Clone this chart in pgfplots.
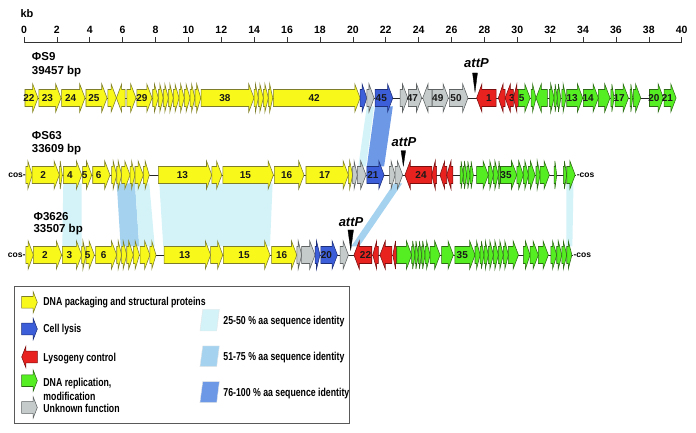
\documentclass[border=0pt]{standalone}
\usepackage{fontspec}
\setmainfont{Liberation Sans}
\newfontfamily\narrowfont[FakeStretch=0.76]{Liberation Sans}
\usepackage{pgfplots}
\pgfplotsset{compat=1.18}
\definecolor{cY}{HTML}{F8F81A}\definecolor{cYd}{HTML}{7D7D2A}
\definecolor{cB}{HTML}{3D5ED9}\definecolor{cBd}{HTML}{1E2F7A}
\definecolor{cR}{HTML}{E8221E}\definecolor{cRd}{HTML}{7A0E0E}
\definecolor{cG}{HTML}{55EE22}\definecolor{cGd}{HTML}{2D6A14}
\definecolor{cN}{HTML}{C5CACA}\definecolor{cNd}{HTML}{5E6262}
\definecolor{bA}{HTML}{D4F3F8}\definecolor{bB}{HTML}{A5D3EF}\definecolor{bC}{HTML}{6C98E5}
\tikzset{
 gY/.style={fill=cY,draw=cYd,line width=0.55pt},
 gB/.style={fill=cB,draw=cBd,line width=0.55pt},
 gR/.style={fill=cR,draw=cRd,line width=0.55pt},
 gG/.style={fill=cG,draw=cGd,line width=0.55pt},
 gN/.style={fill=cN,draw=cNd,line width=0.55pt},
 genelabel/.style={font=\bfseries\fontsize{10}{10}\selectfont,inner sep=0pt,text=black!90},
 lbl/.style={font=\bfseries\fontsize{11.5}{12}\selectfont,anchor=west,inner sep=0pt},
 leg/.style={font=\narrowfont\bfseries\fontsize{11.5}{12}\selectfont,anchor=west,inner sep=0pt},
 att/.style={font=\bfseries\itshape\fontsize{13}{14}\selectfont,inner sep=0pt},
 cos/.style={font=\bfseries\fontsize{8.5}{9}\selectfont,inner sep=0pt}
}
% arrow: x1, x2, y(px), body half, head half, max head length, style, label
\newcommand\Garrow[8]{%
  \pgfmathsetmacro\GA{#1}%
  \pgfmathsetmacro\GB{#2}%
  \pgfmathsetmacro\GL{abs(#2-#1)}%
  \pgfmathsetmacro\GD{(#2>#1)?1:-1}%
  \pgfmathsetmacro\GH{min(#6,0.7*\GL)}%
  \pgfmathsetmacro\GN{#2-\GD*\GH}%
  \pgfmathsetmacro\GM{(#1+\GN)/2}%
  \pgfmathsetmacro\Yc{-(#3)}%
  \pgfmathsetmacro\Ya{-(#3)+#4}%
  \pgfmathsetmacro\Yb{-(#3)-#4}%
  \pgfmathsetmacro\YA{-(#3)+#5}%
  \pgfmathsetmacro\YB{-(#3)-#5}%
  \edef\GTMP{\noexpand\addplot[#7] coordinates {(\GA,\Ya) (\GN,\Ya) (\GN,\YA) (\GB,\Yc) (\GN,\YB) (\GN,\Yb) (\GA,\Yb)} -- cycle;}%
  \GTMP
  \if\relax\detokenize{#8}\relax\else
    \edef\GTMP{\noexpand\node[genelabel] at (axis cs:\GM,\Yc) {#8};}\GTMP
  \fi
}
\newcommand\Gene[5]{\Garrow{#1}{#2}{#3}{8.5}{14}{0.32}{g#4}{#5}}
% band: top x1, top x2, bottom x1, bottom x2, top y, bottom y, colour
\newcommand\Band[7]{%
  \addplot[fill=#7,draw=none] coordinates {(#1,-#5) (#2,-#5) (#4,-#6) (#3,-#6)} -- cycle;}
% attP triangle: x, ytop, ybottom, half width
\newcommand\Att[4]{%
  \pgfmathsetmacro\TL{#1-#4}\pgfmathsetmacro\TR{#1+#4}%
  \edef\GTMP{\noexpand\addplot[fill=black,draw=black,line width=0.3pt] coordinates {(\TL,-#2) (\TR,-#2) (#1,-#3)} -- cycle;}\GTMP}
\begin{document}
\begin{tikzpicture}
\begin{axis}[
  scale only axis, width=657.7pt, height=391pt,
  xmin=0, xmax=40, ymin=-433, ymax=-42,
  axis x line=top, axis y line=none,
  x axis line style={-, draw=black!80, line width=0.7pt},
  xtick={0,2,...,40},
  tick align=outside, major tick length=5pt,
  tick style={black!80, line width=0.6pt},
  /pgf/number format/assume math mode=true,
  x tick label style={font=\bfseries\fontsize{10.5}{12}\selectfont},
  clip=false,
]
% backbones
\addplot[black!85,line width=0.7pt] coordinates {(0.0,-98) (39.46,-98)};
\addplot[black!85,line width=0.7pt] coordinates {(0.1,-175) (33.6,-175)};
\addplot[black!85,line width=0.7pt] coordinates {(0.1,-255) (33.4,-255)};
% homology bands S9 -> S63
\Band{20.85}{21.29}{20.33}{20.80}{106.5}{166.5}{bA}
\Band{21.35}{22.43}{20.85}{21.90}{106.5}{166.5}{bC}
% S63 -> 3626
\Band{2.39}{3.51}{2.33}{3.51}{183.5}{246.5}{bA}
\Band{5.64}{6.75}{5.88}{7.01}{183.5}{246.5}{bB}
\Band{6.75}{7.62}{7.01}{7.95}{183.5}{246.5}{bA}
\Band{8.23}{15.12}{8.47}{14.96}{183.5}{246.5}{bA}
\Band{22.50}{23.00}{19.90}{20.38}{183.5}{246.5}{bB}
\Band{32.98}{33.42}{32.98}{33.35}{183.5}{246.5}{bA}
% ---- track 1: PhiS9 ----
\Gene{0.06}{0.85}{98}{Y}{22}
\Gene{0.91}{2.25}{98}{Y}{23}
\Gene{2.29}{3.71}{98}{Y}{24}
\Gene{3.77}{5.05}{98}{Y}{25}
\Gene{5.10}{5.62}{98}{Y}{}
\Gene{6.15}{5.62}{98}{Y}{}
\Gene{6.26}{6.81}{98}{Y}{}
\Gene{6.87}{7.79}{98}{Y}{29}
\Gene{7.83}{8.17}{98}{Y}{}
\Gene{8.17}{8.47}{98}{Y}{}
\Gene{8.47}{8.78}{98}{Y}{}
\Gene{8.78}{9.08}{98}{Y}{}
\Gene{9.08}{9.43}{98}{Y}{}
\Gene{9.43}{9.75}{98}{Y}{}
\Gene{9.75}{10.10}{98}{Y}{}
\Gene{10.10}{10.40}{98}{Y}{}
\Gene{10.40}{10.75}{98}{Y}{}
\Gene{10.77}{13.99}{98}{Y}{38}
\Gene{14.00}{14.25}{98}{Y}{}
\Gene{14.25}{14.56}{98}{Y}{}
\Gene{14.56}{14.86}{98}{Y}{}
\Gene{14.86}{15.13}{98}{Y}{}
\Gene{15.17}{20.44}{98}{Y}{42}
\Gene{20.44}{20.85}{98}{B}{}
\Gene{20.85}{21.29}{98}{N}{}
\Gene{21.35}{22.43}{98}{B}{45}
\Gene{22.87}{23.34}{98}{N}{}
\Gene{23.38}{24.19}{98}{N}{47}
\Gene{24.80}{24.25}{98}{N}{}
\Gene{24.84}{25.81}{98}{N}{49}
\Gene{25.87}{27.00}{98}{N}{50}
\Gene{28.71}{27.53}{98}{R}{1}
\Gene{29.26}{28.85}{98}{R}{}
\Gene{29.76}{29.26}{98}{R}{3}
\Gene{30.07}{29.76}{98}{R}{}
\Gene{30.07}{30.78}{98}{G}{5}
\Gene{30.84}{31.14}{98}{G}{}
\Gene{31.83}{31.14}{98}{G}{}
\Gene{31.95}{32.24}{98}{G}{}
\Gene{32.24}{32.44}{98}{G}{}
\Gene{32.44}{32.65}{98}{G}{}
\Gene{32.71}{32.97}{98}{G}{}
\Gene{33.01}{33.98}{98}{G}{13}
\Gene{34.02}{34.93}{98}{G}{14}
\Gene{34.93}{35.64}{98}{G}{}
\Gene{35.69}{35.89}{98}{G}{}
\Gene{35.95}{36.76}{98}{G}{17}
\Gene{36.86}{37.02}{98}{G}{}
\Gene{37.06}{37.51}{98}{G}{}
\Gene{38.04}{38.89}{98}{G}{20}
\Gene{38.93}{39.66}{98}{G}{21}
\Att{27.43}{73}{92}{0.15}
% ---- track 2: PhiS63 ----
\Gene{0.12}{0.50}{175}{Y}{}
\Gene{0.50}{2.15}{175}{Y}{2}
\Gene{2.15}{2.33}{175}{Y}{}
\Gene{2.39}{3.51}{175}{Y}{4}
\Gene{3.57}{4.12}{175}{Y}{5}
\Gene{4.18}{5.23}{175}{Y}{6}
\Gene{5.33}{5.64}{175}{Y}{}
\Gene{5.64}{5.94}{175}{Y}{}
\Gene{5.94}{6.45}{175}{Y}{}
\Gene{6.45}{6.75}{175}{Y}{}
\Gene{6.75}{7.26}{175}{Y}{}
\Gene{7.26}{7.62}{175}{Y}{}
\Gene{8.17}{11.42}{175}{Y}{13}
\Gene{11.42}{12.03}{175}{Y}{}
\Gene{12.09}{15.17}{175}{Y}{15}
\Gene{15.23}{17.03}{175}{Y}{16}
\Gene{17.15}{19.73}{175}{Y}{17}
\Gene{19.73}{19.99}{175}{Y}{}
\Gene{19.99}{20.27}{175}{N}{}
\Gene{20.27}{20.80}{175}{N}{}
\Gene{20.85}{21.90}{175}{B}{21}
\Gene{22.22}{22.57}{175}{N}{}
\Gene{22.57}{23.03}{175}{N}{}
\Gene{24.80}{23.17}{175}{R}{24}
\Gene{25.10}{24.80}{175}{R}{}
\Gene{25.71}{25.30}{175}{R}{}
\Gene{26.08}{25.71}{175}{R}{}
\Gene{26.52}{26.72}{175}{G}{}
\Gene{26.72}{26.93}{175}{G}{}
\Gene{26.93}{27.13}{175}{G}{}
\Gene{27.13}{27.33}{175}{G}{}
\Gene{27.53}{28.24}{175}{G}{}
\Gene{28.24}{28.55}{175}{G}{}
\Gene{28.55}{28.85}{175}{G}{}
\Gene{28.85}{28.98}{175}{G}{}
\Gene{28.98}{29.97}{175}{G}{35}
\Gene{29.97}{30.37}{175}{G}{}
\Gene{30.37}{30.68}{175}{G}{}
\Gene{30.68}{31.08}{175}{G}{}
\Gene{31.14}{31.39}{175}{G}{}
\Gene{31.39}{31.95}{175}{G}{}
\Gene{32.24}{32.40}{175}{G}{}
\Gene{32.80}{33.01}{175}{G}{}
\Gene{33.01}{33.52}{175}{G}{}
\Att{23.07}{150.7}{166}{0.14}
% ---- track 3: Phi3626 ----
\Gene{0.12}{0.57}{255}{Y}{}
\Gene{0.57}{2.29}{255}{Y}{2}
\Gene{2.33}{3.51}{255}{Y}{3}
\Gene{3.51}{3.77}{255}{Y}{}
\Gene{3.77}{4.28}{255}{Y}{5}
\Gene{4.36}{5.64}{255}{Y}{6}
\Gene{5.64}{5.94}{255}{Y}{}
\Gene{5.94}{6.25}{255}{Y}{}
\Gene{6.25}{6.65}{255}{Y}{}
\Gene{6.65}{7.02}{255}{Y}{}
\Gene{7.06}{7.66}{255}{Y}{}
\Gene{7.66}{8.03}{255}{Y}{}
\Gene{8.52}{11.35}{255}{Y}{13}
\Gene{11.35}{12.09}{255}{Y}{}
\Gene{12.12}{14.96}{255}{Y}{15}
\Gene{15.06}{16.59}{255}{Y}{16}
\Gene{16.59}{16.89}{255}{N}{}
\Gene{16.89}{17.70}{255}{N}{}
\Gene{17.70}{18.00}{255}{B}{}
\Gene{18.05}{19.06}{255}{B}{20}
\Gene{19.22}{19.73}{255}{N}{}
\Gene{21.15}{20.07}{255}{R}{22}
\Gene{21.55}{21.21}{255}{R}{}
\Gene{22.37}{21.65}{255}{R}{}
\Gene{22.67}{22.43}{255}{R}{}
\Gene{22.67}{23.58}{255}{G}{}
\Gene{23.58}{23.78}{255}{G}{}
\Gene{23.78}{23.98}{255}{G}{}
\Gene{23.98}{24.19}{255}{G}{}
\Gene{24.19}{24.39}{255}{G}{}
\Gene{24.39}{24.70}{255}{G}{}
\Gene{24.70}{25.30}{255}{G}{}
\Gene{25.40}{26.11}{255}{G}{}
\Gene{26.20}{27.43}{255}{G}{35}
\Gene{27.43}{27.74}{255}{G}{}
\Gene{27.74}{27.98}{255}{G}{}
\Gene{27.98}{28.24}{255}{G}{}
\Gene{28.24}{28.55}{255}{G}{}
\Gene{28.55}{28.85}{255}{G}{}
\Gene{28.85}{29.15}{255}{G}{}
\Gene{29.15}{29.46}{255}{G}{}
\Gene{29.46}{30.07}{255}{G}{}
\Gene{30.37}{30.78}{255}{G}{}
\Gene{30.78}{31.28}{255}{G}{}
\Gene{31.28}{31.89}{255}{G}{}
\Gene{32.04}{32.40}{255}{G}{}
\Gene{32.40}{32.71}{255}{G}{}
\Gene{32.71}{33.01}{255}{G}{}
\Gene{33.01}{33.32}{255}{G}{}
\Att{19.87}{230}{250}{0.17}
% ---- texts ----
\node[font=\bfseries\fontsize{11}{12}\selectfont,inner sep=0pt] at (axis cs:0.18,-13.5) {kb};
\node[lbl] at (axis cs:0.47,-57) {ΦS9};
\node[lbl] at (axis cs:0.47,-72) {39457 bp};
\node[lbl] at (axis cs:0.47,-136) {ΦS63};
\node[lbl] at (axis cs:0.47,-150) {33609 bp};
\node[lbl] at (axis cs:0.57,-216.7) {Φ3626};
\node[lbl] at (axis cs:0.57,-230) {33507 bp};
\node[att] at (axis cs:27.52,-63) {attP};
\node[att] at (axis cs:23.11,-141.7) {attP};
\node[att] at (axis cs:19.89,-221.7) {attP};
\node[cos,anchor=east] at (axis cs:0.12,-175) {cos-};
\node[cos,anchor=east] at (axis cs:0.10,-255) {cos-};
\node[cos,anchor=west] at (axis cs:33.61,-175) {-cos};
\node[cos,anchor=west] at (axis cs:33.41,-255) {-cos};
% ---- legend ----
\addplot[draw=black!65,line width=0.8pt] coordinates {(-0.608,-286) (19.78,-286) (19.78,-423.3) (-0.608,-423.3)} -- cycle;
\Garrow{-0.14}{0.81}{302.3}{5.8}{10.5}{0.25}{gY}{}
\Garrow{-0.14}{0.81}{329}{5.8}{10.5}{0.25}{gB}{}
\Garrow{0.81}{-0.14}{357}{5.8}{10.5}{0.25}{gR}{}
\Garrow{-0.14}{0.81}{380.7}{5.8}{10.5}{0.25}{gG}{}
\Garrow{-0.14}{0.81}{407.5}{5.8}{10.5}{0.25}{gN}{}
\node[leg] at (axis cs:1.17,-302.3) {DNA packaging and structural proteins};
\node[leg] at (axis cs:1.17,-329.3) {Cell lysis};
\node[leg] at (axis cs:1.17,-358.3) {Lysogeny control};
\node[leg] at (axis cs:1.17,-383.3) {DNA replication,};
\node[leg] at (axis cs:1.17,-396.7) {modification};
\node[leg] at (axis cs:1.17,-408.3) {Unknown function};
\addplot[fill=bA,draw=black!10] coordinates {(10.87,-309.3) (11.88,-309.3) (11.72,-331) (10.70,-331)} -- cycle;
\addplot[fill=bB,draw=black!10] coordinates {(10.87,-346) (11.88,-346) (11.72,-366.7) (10.70,-366.7)} -- cycle;
\addplot[fill=bC,draw=black!10] coordinates {(10.87,-381.7) (11.88,-381.7) (11.72,-402.7) (10.70,-402.7)} -- cycle;
\node[leg] at (axis cs:12.12,-321.7) {25-50 \% aa sequence identity};
\node[leg] at (axis cs:12.12,-357.3) {51-75 \% aa sequence identity};
\node[leg] at (axis cs:12.12,-393.3) {76-100 \% aa sequence identity};
\end{axis}
\pgfresetboundingbox
\path ([xshift=-24pt]current axis.south west) rectangle ([xshift=14.3pt,yshift=42pt]current axis.north east);
\end{tikzpicture}
\end{document}
